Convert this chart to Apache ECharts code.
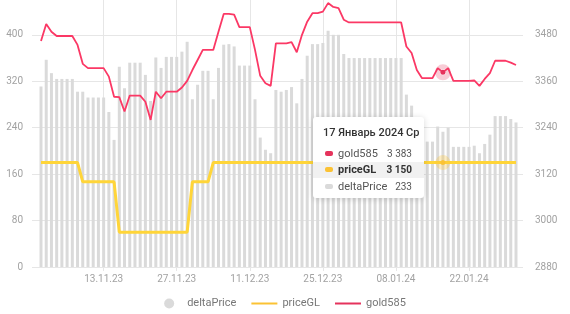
<!DOCTYPE html>
<html>
<head>
<meta charset="utf-8">
<script src="https://cdn.jsdelivr.net/npm/echarts@6/dist/echarts.min.js"></script>
<style>
  html,body{margin:0;padding:0;background:#fff;}
  #chart{width:570px;height:314px;}
</style>
</head>
<body>
<div id="chart"></div>
<script>
'use strict';

/* ---------- data ---------- */
const START = '2023-11-01';   // first day on the axis, one point per day
const N_DAYS = 92;

const gold585 = [
  3464,3508,3488,3477,3477,3477,3477,3454,3405,3394,
  3394,3394,3394,3372,3320,3319,3282,3323,3323,3323,
  3307,3260,3333,3316,3333,3333,3333,3344,3361,3389,
  3415,3441,3441,3441,3488,3534,3534,3532,3500,3500,
  3500,3441,3374,3355,3348,3458,3458,3458,3461,3435,
  3480,3514,3536,3536,3540,3562,3552,3549,3519,3512,
  3512,3512,3512,3512,3512,3512,3512,3512,3512,3512,
  3450,3433,3389,3368,3368,3368,3394,3383,3394,3361,
  3361,3361,3361,3362,3348,3366,3381,3413,3413,3413,
  3408,3402
];
const priceGL = [
  3150,3150,3150,3150,3150,3150,3150,3150,3100,3100,
  3100,3100,3100,3100,3100,2970,2970,2970,2970,2970,
  2970,2970,2970,2970,2970,2970,2970,2970,2970,3100,
  3100,3100,3100,3150,3150,3150,3150,3150,3150,3150,
  3150,3150,3150,3150,3150,3150,3150,3150,3150,3150,
  3150,3150,3150,3150,3150,3150,3150,3150,3150,3150,
  3150,3150,3150,3150,3150,3150,3150,3150,3150,3150,
  3150,3150,3150,3150,3150,3150,3150,3150,3150,3150,
  3150,3150,3150,3150,3150,3150,3150,3150,3150,3150,
  3150,3150
];
const deltaPrice = [
  311,357,334,324,324,324,324,302,302,292,
  292,292,292,267,219,345,308,352,352,352,
  331,286,361,343,362,362,362,371,388,289,
  314,338,338,289,343,383,384,380,347,347,
  347,289,223,202,196,305,302,305,310,282,
  324,364,384,384,386,407,400,400,367,360,
  360,360,360,360,360,360,360,360,360,360,
  297,278,239,218,216,216,242,233,240,207,
  207,207,207,209,196,212,228,260,260,260,
  255,249
];
const TIP_INDEX = 77;         // 17.01.24, the day the tooltip is open on

const MONTHS_RU = ['Январь','Февраль','Март','Апрель','Май','Июнь','Июль','Август','Сентябрь','Октябрь','Ноябрь','Декабрь'];
const WEEK_RU = ['Вс','Пн','Вт','Ср','Чт','Пт','Сб'];

/* ---------- palette ---------- */
const C = {
  red:'#e5335c', yellow:'#fbc234', bar:'#dadada',
  grid:'#e6e6e6', label:'#a2a2a2', text:'#555', ink:'#333',
  font:'Roboto,sans-serif',
};

/* ---------- helpers ---------- */
const pad2 = n => String(n).padStart(2,'0');
const days = [];
for(let i=0;i<N_DAYS;i++){
  const d = new Date(START+'T00:00:00Z'); d.setUTCDate(d.getUTCDate()+i); days.push(d);
}
const categories = days.map(d => `${pad2(d.getUTCDate())}.${pad2(d.getUTCMonth()+1)}.${String(d.getUTCFullYear()).slice(2)}`);
const everyTwoWeeks = idx => idx % 14 === 12;
const fmtNum = n => String(n).replace(/\B(?=(\d{3})+(?!\d))/g,' ');

function tipHtml(params){
  const i = params[0].dataIndex, d = days[i];
  const title = `${d.getUTCDate()} ${MONTHS_RU[d.getUTCMonth()]} ${d.getUTCFullYear()} ${WEEK_RU[d.getUTCDay()]}`;
  const rows = ['gold585','priceGL','deltaPrice'].map(name=>{
    const p = params.find(q=>q.seriesName===name);
    if(!p) return '';
    const hl = name==='priceGL';
    return `<div style="display:flex;align-items:center;height:16.5px;padding:0 12px;${hl?'background:#f1f1f1;font-weight:700;color:#333;':''}">
      <span style="display:inline-block;width:8px;height:5px;border-radius:2px;background:${p.color};margin-right:5px;flex:none"></span>
      <span style="flex:1;font-size:11px">${name}</span>
      <span style="font-size:10px;flex:none">${fmtNum(p.value)}</span></div>`;
  }).join('');
  return `<div style="width:111px;font-family:${C.font};color:${C.text};padding:0 0 3px">
    <div style="padding:8px 6px 0 10px;height:16px;line-height:16px;margin-bottom:4px;font-size:11px;font-weight:500;color:${C.ink};white-space:nowrap">${title}</div>
    ${rows}</div>`;
}

/* ---------- chart ---------- */
const chart = echarts.init(document.getElementById('chart'));
const lbl = {color:C.label, fontFamily:C.font, fontSize:10};

chart.setOption({
  animation:false,
  textStyle:{fontFamily:C.font},
  grid:[
    {left:41, right:54, top:0, bottom:47},   // data
    {left:32, right:47, top:0, bottom:47},   // value grid lines + labels
  ],
  legend:{
    top:293, left:'center', itemWidth:26, itemHeight:10, itemGap:15,
    textStyle:{color:'#777', fontSize:11, fontFamily:C.font},
    data:[
      {name:'deltaPrice', icon:'circle'},
      {name:'priceGL', icon:'path://M0,0H26V2H0Z'},
      {name:'gold585', icon:'path://M0,0H26V2H0Z'},
    ],
  },
  tooltip:{
    trigger:'axis', triggerOn:'none', alwaysShowContent:true,
    axisPointer:{type:'line', lineStyle:{opacity:0}},
    position:[313,117], padding:0, borderWidth:0, backgroundColor:'#fff',
    extraCssText:'box-shadow:0 1px 6px rgba(0,0,0,.16);border-radius:3px;',
    formatter:tipHtml,
  },
  xAxis:[
    {gridIndex:0, type:'category', boundaryGap:false, data:categories,
     axisLine:{show:false},
     axisTick:{show:true, interval:everyTwoWeeks, length:4, lineStyle:{color:C.grid}},
     axisLabel:{...lbl, interval:everyTwoWeeks, margin:7},
     splitLine:{show:true, interval:everyTwoWeeks, lineStyle:{color:C.grid}}},
    {gridIndex:1, type:'value', min:0, max:1, show:false},
  ],
  yAxis:[
    {gridIndex:0, type:'value', min:0, max:460, show:false},
    {gridIndex:0, type:'value', min:2880, max:3570, show:false},
    {gridIndex:1, type:'value', position:'left', min:0, max:460, interval:80,
     axisLine:{show:false}, axisTick:{show:false},
     axisLabel:{...lbl, margin:9, showMaxLabel:false, formatter:v=>String(v)},
     splitLine:{lineStyle:{color:C.grid}, showMaxLine:false}},
    {gridIndex:1, type:'value', position:'right', min:2880, max:3570, interval:120,
     axisLine:{show:false}, axisTick:{show:false},
     axisLabel:{...lbl, margin:12, showMaxLabel:false, formatter:v=>String(v)},
     splitLine:{show:false}},
  ],
  series:[
    {name:'deltaPrice', type:'bar', xAxisIndex:0, yAxisIndex:0, data:deltaPrice,
     barWidth:3, itemStyle:{color:C.bar}, emphasis:{disabled:true}},
    {name:'priceGL', type:'line', xAxisIndex:0, yAxisIndex:1, data:priceGL,
     showSymbol:false, symbol:'circle', symbolSize:5, color:C.yellow,
     lineStyle:{color:C.yellow, width:3}, itemStyle:{color:C.yellow},
     emphasis:{scale:false, lineStyle:{width:3},
       itemStyle:{borderColor:'rgba(251,194,52,0.3)', borderWidth:10}}},
    {name:'gold585', type:'line', xAxisIndex:0, yAxisIndex:1, data:gold585,
     showSymbol:false, symbol:'circle', symbolSize:5, color:C.red, z:4,
     lineStyle:{color:C.red, width:1.8}, itemStyle:{color:C.red},
     emphasis:{scale:false, lineStyle:{width:1.8},
       itemStyle:{borderColor:'rgba(229,51,92,0.25)', borderWidth:11}}},
  ],
});

chart.dispatchAction({type:'showTip', seriesIndex:2, dataIndex:TIP_INDEX});
</script>
</body>
</html>
